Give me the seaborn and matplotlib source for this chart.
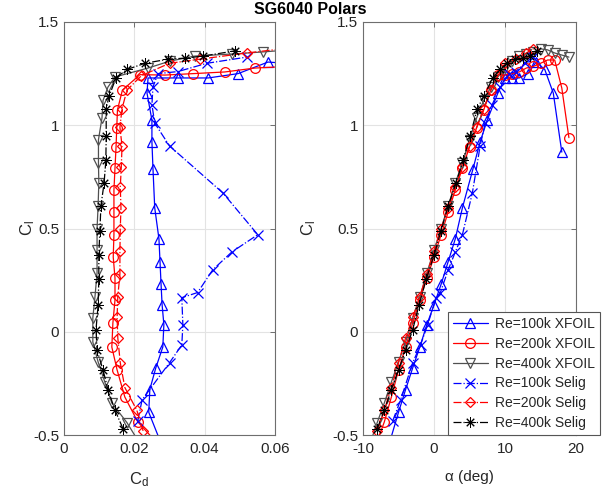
import matplotlib
matplotlib.use("Agg")
import matplotlib.pyplot as plt
import seaborn as sns
import pandas as pd
from matplotlib.ticker import FuncFormatter

# ---------------- data ----------------
# Re=100k XFOIL
a100x = [-6.8, -5, -4, -3, -2, -1, 0, 1, 2, 3, 4, 5.5, 6.5, 7.5, 9, 10, 11, 12, 13.2, 14.4, 15.6, 16.8, 18]
cl100x = [-0.60, -0.39, -0.28, -0.175, -0.074, 0.035, 0.13, 0.23, 0.34, 0.45, 0.60, 0.79, 0.92, 1.025,
          1.156, 1.229, 1.229, 1.229, 1.25, 1.306, 1.27, 1.156, 0.87]
cd100x = [0.029, 0.0241, 0.0244, 0.0261, 0.0281, 0.0284, 0.0279, 0.0276, 0.0273, 0.027, 0.0258, 0.0253,
          0.025, 0.025, 0.0236, 0.0239, 0.0324, 0.041, 0.0495, 0.058, 0.09, 0.11, 0.14]

# Re=200k XFOIL
a200x = [-8, -7, -6, -5, -4, -3, -2, -1, 0, 1, 2, 3, 4, 5, 6, 7, 8, 9, 10, 11, 12, 13, 14, 15, 16, 17, 18, 19]
cl200x = [-0.53, -0.437, -0.316, -0.185, -0.074, 0.042, 0.154, 0.26, 0.362, 0.47, 0.58, 0.686, 0.793,
          0.895, 0.987, 1.074, 1.17, 1.245, 1.243, 1.25, 1.258, 1.277, 1.285, 1.30, 1.316, 1.316, 1.18, 0.94]
cd200x = [0.026, 0.021, 0.0173, 0.0151, 0.0136, 0.0139, 0.0145, 0.0145, 0.0140, 0.0142, 0.0142, 0.0142,
          0.0145, 0.0148, 0.0150, 0.0152, 0.0166, 0.0216, 0.0287, 0.0367, 0.0457, 0.0543, 0.064, 0.074,
          0.088, 0.105, 0.14, 0.19]

# Re=400k XFOIL
a400x = [-9, -8, -7, -6, -5, -4, -3, -2, -1, 0, 1, 2, 3, 4, 5, 6, 7, 8, 9, 10, 11, 12, 13, 14, 15, 16, 17, 18, 19]
cl400x = [-0.54, -0.44, -0.345, -0.243, -0.146, -0.05, 0.067, 0.168, 0.285, 0.395, 0.50, 0.61, 0.72,
          0.817, 0.93, 1.035, 1.12, 1.185, 1.234, 1.277, 1.31, 1.335, 1.345, 1.355, 1.37, 1.365, 1.35,
          1.34, 1.33]
cd400x = [0.0215, 0.0179, 0.0136, 0.0116, 0.0097, 0.0082, 0.0082, 0.0088, 0.0094, 0.0094, 0.0094, 0.0097,
          0.0099, 0.0098, 0.0098, 0.0108, 0.0111, 0.0125, 0.0145, 0.0239, 0.030, 0.0372, 0.0477, 0.0565,
          0.068, 0.08, 0.095, 0.11, 0.125]

# Re=100k Selig
a100s = [-5.8, -4.7, -3.0, -1.9, -0.9, 0.3, 0.9, 2.0, 3.0, 4.0, 5.4, 6.5, 7.2, 8.2, 9.3, 10.6, 11.5, 12.8, 14.0]
cl100s = [-0.43, -0.33, -0.15, -0.064, 0.033, 0.165, 0.19, 0.30, 0.386, 0.47, 0.672, 0.90, 1.01, 1.10,
          1.185, 1.25, 1.26, 1.30, 1.33]
cd100s = [0.021, 0.0222, 0.030, 0.0335, 0.0338, 0.0335, 0.038, 0.0423, 0.0477, 0.0551, 0.0452, 0.030,
          0.0258, 0.025, 0.0253, 0.0267, 0.0324, 0.0406, 0.052]

# Re=200k Selig
a200s = [-8, -7, -6, -5, -4, -3, -2, -1, 0, 1, 2, 3, 4, 5, 6, 7, 8, 9, 10, 11.5, 13, 14]
cl200s = [-0.48, -0.38, -0.27, -0.15, -0.03, 0.07, 0.17, 0.28, 0.39, 0.50, 0.60, 0.70, 0.80, 0.90, 0.99,
          1.08, 1.17, 1.24, 1.30, 1.32, 1.35, 1.37]
cd200s = [0.0225, 0.0207, 0.0173, 0.016, 0.0153, 0.0151, 0.0153, 0.0159, 0.0159, 0.016, 0.0162, 0.0160,
          0.0163, 0.0165, 0.0159, 0.0165, 0.0179, 0.022, 0.030, 0.0386, 0.052, 0.062]

# Re=400k Selig
a400s = [-8.0, -7.0, -6.0, -5.0, -4.0, -3.0, -2.1, -1.1, 0.0, 1.0, 2.0, 3.1, 4.1, 5.1, 6.1, 7.0, 8.3, 9.3,
         10.3, 11.4, 12.5, 13.5, 14.5]
cl400s = [-0.47, -0.38, -0.28, -0.185, -0.09, 0.01, 0.13, 0.255, 0.37, 0.49, 0.61, 0.72, 0.83, 0.95, 1.08,
          1.14, 1.23, 1.27, 1.30, 1.32, 1.325, 1.335, 1.36]
cd400s = [0.0168, 0.0145, 0.0125, 0.0111, 0.0094, 0.0091, 0.0097, 0.0099, 0.0099, 0.0102, 0.0105, 0.0114,
          0.0119, 0.0120, 0.0120, 0.0128, 0.0148, 0.0179, 0.023, 0.0296, 0.0344, 0.0395, 0.0486]

labels = ["Re=100k XFOIL", "Re=200k XFOIL", "Re=400k XFOIL",
          "Re=100k Selig", "Re=200k Selig", "Re=400k Selig"]
title = "SG6040 Polars"
xticks_left = [0, 0.02, 0.04, 0.06]
xticks_right = [-10, 0, 10, 20]
yticks = [-0.5, 0, 0.5, 1, 1.5]

series = [(a100x, cl100x, cd100x), (a200x, cl200x, cd200x), (a400x, cl400x, cd400x),
          (a100s, cl100s, cd100s), (a200s, cl200s, cd200s), (a400s, cl400s, cd400s)]

# ---------------- styles ----------------
styles = [
    dict(color="#0000ff", linestyle="-", marker="^", markersize=7, mew=0.9),
    dict(color="#ff0000", linestyle="-", marker="o", markersize=7, mew=0.9),
    dict(color="#505050", linestyle="-", marker="v", markersize=7, mew=0.9),
    dict(color="#0000ff", linestyle="-.", marker="x", markersize=7, mew=0.9),
    dict(color="#ff0000", linestyle="-.", marker="D", markersize=5.5, mew=0.9),
    dict(color="#000000", linestyle="-.", marker=(8, 2, 0), markersize=7.5, mew=0.7),
]

sns.set_style("white")
plt.rcParams['font.family'] = ['Liberation Sans', 'DejaVu Sans']
plt.rcParams['axes.unicode_minus'] = False
plt.rcParams['mathtext.fontset'] = 'custom'
plt.rcParams['mathtext.rm'] = 'Liberation Sans'
plt.rcParams['mathtext.it'] = 'Liberation Sans:italic'

fig = plt.figure(figsize=(6.12, 4.9), dpi=100)
ax1 = fig.add_axes([64 / 612, 1 - 435 / 490, 211 / 612, 413 / 490])
ax2 = fig.add_axes([363 / 612, 1 - 435 / 490, 213 / 612, 413 / 490])

for (a, cl, cd), st, lab in zip(series, styles, labels):
    common = dict(color=st["color"], linestyle=st["linestyle"], marker=st["marker"],
                  markersize=st["markersize"], markerfacecolor="none",
                  markeredgecolor=st["color"], markeredgewidth=st["mew"], linewidth=0.9,
                  sort=False, estimator=None, legend=False)
    sns.lineplot(x=cd, y=cl, ax=ax1, label=lab, **common)
    sns.lineplot(x=a, y=cl, ax=ax2, label=lab, **common)

fmt = FuncFormatter(lambda v, p: f"{v:g}")
for ax, xt, xl in [(ax1, xticks_left, (0, 0.06)), (ax2, xticks_right, (-10, 20))]:
    ax.set_xlim(*xl)
    ax.set_ylim(-0.5, 1.5)
    ax.set_xticks(xt)
    ax.set_yticks(yticks)
    ax.xaxis.set_major_formatter(fmt)
    ax.yaxis.set_major_formatter(fmt)
    ax.grid(True, color="#e3e3e3", linewidth=0.8)
    ax.set_axisbelow(True)
    ax.tick_params(direction="in", length=3.5, width=0.7, top=True, right=True,
                   labelsize=11, colors="#6e6e6e", labelcolor="#262626", pad=5)
    ax.tick_params(axis="y", pad=3.5)
    for sp in ax.spines.values():
        sp.set_color("#6e6e6e")
        sp.set_linewidth(0.8)
        sp.set_visible(True)

ax1.set_xlabel(r"$\mathrm{C_d}$", fontsize=12, color="#262626")
ax1.set_ylabel(r"$\mathrm{C_l}$", fontsize=12, color="#262626")
ax2.set_xlabel("α (deg)", fontsize=11, color="#262626")
ax2.set_ylabel(r"$\mathrm{C_l}$", fontsize=12, color="#262626")
ax1.xaxis.set_label_coords(0.355, -0.085)
ax2.xaxis.set_label_coords(0.5, -0.085)
ax1.yaxis.set_label_coords(-0.128, 0.5)
ax2.yaxis.set_label_coords(-0.21, 0.5)

fig.text(310 / 612, 1 - 10 / 490, title, ha="center", va="center", fontsize=11.5,
         fontweight="bold", color="#000000")

handles, labs = ax2.get_legend_handles_labels()
leg = ax2.legend(handles, labs, loc="lower left", bbox_to_anchor=(448 / 612, 1 - 435 / 490),
                 bbox_transform=fig.transFigure, borderaxespad=0, fontsize=10, frameon=True,
                 fancybox=False, edgecolor="#555555", framealpha=1, handlelength=2.5,
                 handletextpad=0.5, labelspacing=0.42, borderpad=0.35, numpoints=1)
leg.get_frame().set_linewidth(0.8)
for t in leg.get_texts():
    t.set_color("#262626")

fig.savefig("out.png", dpi=100)
